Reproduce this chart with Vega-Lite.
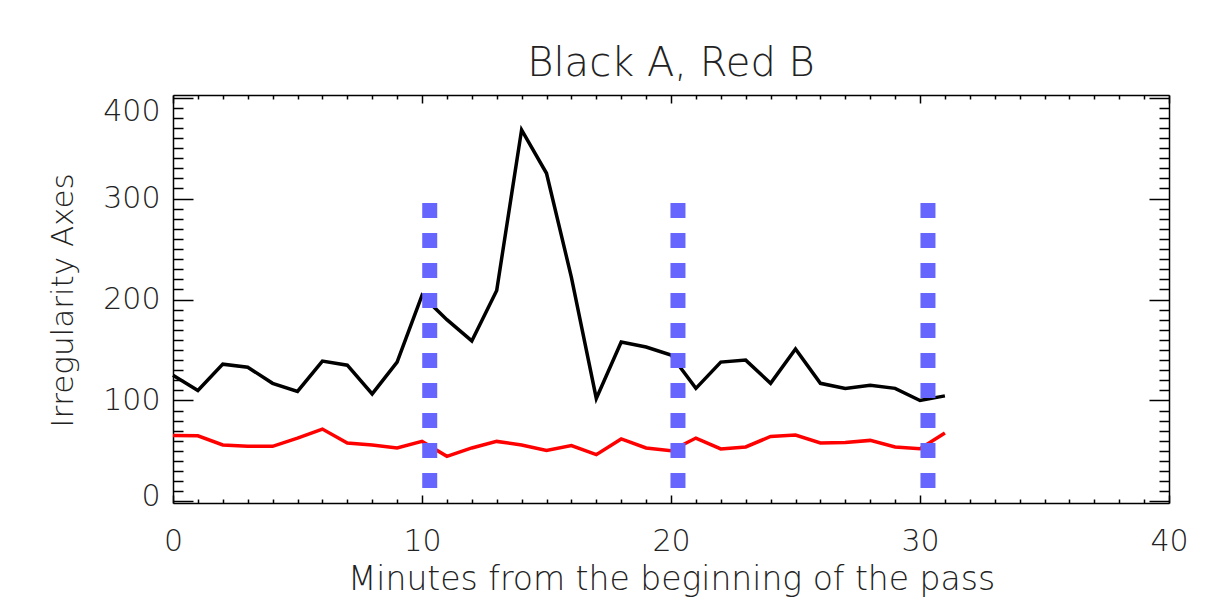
{
  "$schema": "https://vega.github.io/schema/vega-lite/v6.json",
  "width": 996,
  "height": 408,
  "autosize": "none",
  "padding": {"left": 173, "top": 95, "right": 38, "bottom": 102},
  "background": "white",
  "config": {
    "view": {"stroke": null},
    "font": "DejaVu Sans",
    "axis": {"grid": false, "domainColor": "#000000", "domainWidth": 1.5, "tickColor": "#000000", "tickWidth": 1.5, "labelFont": "DejaVu Sans", "labelFontWeight": 200, "labelColor": "#222222", "titleFont": "DejaVu Sans", "titleFontWeight": 200, "titleColor": "#222222"}
  },
  "title": {"text": "Black A, Red B", "fontSize": 40, "font": "DejaVu Sans", "fontWeight": 200, "color": "#222222", "anchor": "middle", "baseline": "alphabetic", "offset": -23},
  "datasets": {
    "series": [
      {"minute": 0, "series": "A", "value": 125}, {"minute": 1, "series": "A", "value": 110}, {"minute": 2, "series": "A", "value": 136}, {"minute": 3, "series": "A", "value": 133}, {"minute": 4, "series": "A", "value": 117}, {"minute": 5, "series": "A", "value": 109}, {"minute": 6, "series": "A", "value": 139}, {"minute": 7, "series": "A", "value": 135}, {"minute": 8, "series": "A", "value": 106.5}, {"minute": 9, "series": "A", "value": 138}, {"minute": 10, "series": "A", "value": 204}, {"minute": 11, "series": "A", "value": 180}, {"minute": 12, "series": "A", "value": 159}, {"minute": 13, "series": "A", "value": 209}, {"minute": 14, "series": "A", "value": 368}, {"minute": 15, "series": "A", "value": 325}, {"minute": 16, "series": "A", "value": 222}, {"minute": 17, "series": "A", "value": 102}, {"minute": 18, "series": "A", "value": 158}, {"minute": 19, "series": "A", "value": 153}, {"minute": 20, "series": "A", "value": 145}, {"minute": 21, "series": "A", "value": 112}, {"minute": 22, "series": "A", "value": 138}, {"minute": 23, "series": "A", "value": 140}, {"minute": 24, "series": "A", "value": 117}, {"minute": 25, "series": "A", "value": 151}, {"minute": 26, "series": "A", "value": 117}, {"minute": 27, "series": "A", "value": 112}, {"minute": 28, "series": "A", "value": 115}, {"minute": 29, "series": "A", "value": 112}, {"minute": 30, "series": "A", "value": 100}, {"minute": 31, "series": "A", "value": 104.6},
      {"minute": 0, "series": "B", "value": 65.4}, {"minute": 1, "series": "B", "value": 65}, {"minute": 2, "series": "B", "value": 56}, {"minute": 3, "series": "B", "value": 54.6}, {"minute": 4, "series": "B", "value": 54.6}, {"minute": 5, "series": "B", "value": 62.8}, {"minute": 6, "series": "B", "value": 71.7}, {"minute": 7, "series": "B", "value": 57.9}, {"minute": 8, "series": "B", "value": 56}, {"minute": 9, "series": "B", "value": 53}, {"minute": 10, "series": "B", "value": 59.5}, {"minute": 11, "series": "B", "value": 44.7}, {"minute": 12, "series": "B", "value": 53}, {"minute": 13, "series": "B", "value": 59.5}, {"minute": 14, "series": "B", "value": 56}, {"minute": 15, "series": "B", "value": 50.6}, {"minute": 16, "series": "B", "value": 55.3}, {"minute": 17, "series": "B", "value": 46.4}, {"minute": 18, "series": "B", "value": 61.9}, {"minute": 19, "series": "B", "value": 53}, {"minute": 20, "series": "B", "value": 50.3}, {"minute": 21, "series": "B", "value": 62.8}, {"minute": 22, "series": "B", "value": 52}, {"minute": 23, "series": "B", "value": 54}, {"minute": 24, "series": "B", "value": 64.4}, {"minute": 25, "series": "B", "value": 65.8}, {"minute": 26, "series": "B", "value": 58}, {"minute": 27, "series": "B", "value": 58.5}, {"minute": 28, "series": "B", "value": 60.5}, {"minute": 29, "series": "B", "value": 54}, {"minute": 30, "series": "B", "value": 52.3}, {"minute": 31, "series": "B", "value": 67.8}
    ],
    "markers": [
      {"minute": 10.31, "top": 295.5, "bottom": 11.4},
      {"minute": 20.28, "top": 295.5, "bottom": 11.4},
      {"minute": 30.32, "top": 295.5, "bottom": 11.4}
    ]
  },
  "layer": [
    {
      "data": {"name": "series"},
      "mark": {"type": "line", "strokeWidth": 3.5},
      "encoding": {
        "x": {"field": "minute", "type": "quantitative", "scale": {"domain": [0, 40], "nice": false, "zero": false},
          "axis": {"orient": "bottom", "values": [0,1,2,3,4,5,6,7,8,9,10,11,12,13,14,15,16,17,18,19,20,21,22,23,24,25,26,27,28,29,30,31,32,33,34,35,36,37,38,39,40],
            "labelExpr": "datum.value % 10 === 0 ? datum.label : ''", "labelFontSize": 30, "labelPadding": 31, "labelFlush": false, "labelOverlap": false,
            "tickSize": {"condition": {"test": "datum.value % 10 === 0", "value": -8}, "value": -4},
            "title": "Minutes from the beginning of the pass", "titleFontSize": 33, "titleY": 86, "titleBaseline": "alphabetic"}},
        "y": {"field": "value", "type": "quantitative", "scale": {"domain": [-1.5, 402.5], "nice": false, "zero": false},
          "axis": {"orient": "left", "values": [0,10,20,30,40,50,60,70,80,90,100,110,120,130,140,150,160,170,180,190,200,210,220,230,240,250,260,270,280,290,300,310,320,330,340,350,360,370,380,390,400],
            "labelExpr": "datum.value % 100 === 0 ? datum.label : ''", "labelFontSize": 30, "labelPadding": 33, "labelFlush": false, "labelOverlap": false,
            "labelBaseline": {"condition": [{"test": "datum.value === 400", "value": "top"}, {"test": "datum.value === 0", "value": "alphabetic"}], "value": "middle"},
            "labelOffset": {"condition": [{"test": "datum.value === 400", "value": -1}, {"test": "datum.value === 0", "value": 4}], "value": 0},
            "tickSize": {"condition": {"test": "datum.value % 100 === 0", "value": -20}, "value": -10},
            "title": "Irregularity Axes", "titleFontSize": 31, "titleX": -110, "titleY": 205, "titleAngle": -90, "titleBaseline": "middle", "titleAlign": "center"}},
        "color": {"field": "series", "type": "nominal", "scale": {"domain": ["A", "B"], "range": ["#000000", "#ff0000"]}, "legend": null}
      }
    },
    {
      "data": {"name": "markers"},
      "mark": {"type": "rule", "strokeWidth": 15, "strokeDash": [15, 15], "strokeCap": "butt", "color": "#6666ff"},
      "encoding": {
        "x": {"field": "minute", "type": "quantitative",
          "axis": {"orient": "top", "values": [0,1,2,3,4,5,6,7,8,9,10,11,12,13,14,15,16,17,18,19,20,21,22,23,24,25,26,27,28,29,30,31,32,33,34,35,36,37,38,39,40],
            "labels": false, "title": null,
            "tickSize": {"condition": {"test": "datum.value % 10 === 0", "value": -8}, "value": -4}}},
        "y": {"field": "top", "type": "quantitative",
          "axis": {"orient": "right", "values": [0,10,20,30,40,50,60,70,80,90,100,110,120,130,140,150,160,170,180,190,200,210,220,230,240,250,260,270,280,290,300,310,320,330,340,350,360,370,380,390,400],
            "labels": false, "title": null,
            "tickSize": {"condition": {"test": "datum.value % 100 === 0", "value": -20}, "value": -10}}},
        "y2": {"field": "bottom"}
      }
    }
  ],
  "resolve": {"axis": {"x": "independent", "y": "independent"}}
}
